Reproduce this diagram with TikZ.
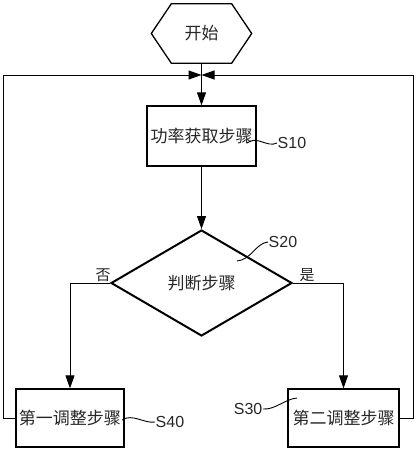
\documentclass[tikz,border=0pt]{standalone}
\usepackage{fontspec}
\setmainfont{Liberation Sans}
\newfontfamily\cjk{Noto Sans CJK SC}
\usetikzlibrary{arrows.meta,shapes.geometric}
\begin{document}
\begin{tikzpicture}[x=1pt,y=-1pt,
  txt/.style={font=\cjk\fontsize{17}{17}\selectfont,text=black!85},
  box/.style={txt,draw,line width=1.3pt,inner sep=0pt},
  lab/.style={font=\fontsize{16}{16}\selectfont,inner sep=0.5pt,text=black!85},
  yn/.style={font=\cjk\fontsize{15}{15}\selectfont,text=black!85},
  conn/.style={line width=1pt,-{Triangle[length=13pt,width=9pt]}},
  plain/.style={line width=1pt},
  sq/.style={line width=0.9pt}]
\useasboundingbox (0,0) rectangle (418,450);
% start hexagon
\node[txt,minimum width=60pt,minimum height=59pt,inner sep=0pt] (start) at (201.5,33.5) {开始};
\draw[line width=1.3pt] (start.north west) -- (start.north east) -- ([xshift=20pt]start.east)
  -- (start.south east) -- (start.south west) -- ([xshift=-20pt]start.west) -- cycle;
\coordinate (j) at (201.5,75);
\coordinate (cl) at (3,75);
\coordinate (cr) at (413,75);
% boxes
\node[box,minimum width=109pt,minimum height=60pt] (s10) at (201.5,136) {功率获取步骤};
\node[txt,draw,diamond,line width=2pt,minimum width=181pt,minimum height=106pt,inner sep=0pt] (d) at (201.5,283) {判断步骤};
\node[box,minimum width=108pt,minimum height=58pt] (s40) at (70,418) {第一调整步骤};
\node[box,minimum width=111pt,minimum height=58pt] (s30) at (343.5,418) {第二调整步骤};
% connectors
\draw[plain] (start.south) -- (j);
\draw[conn] (j) -- (s10.north);
\draw[conn] (s10.south) -- (d.north);
\draw[conn] (d.west) -| (s40.north);
\draw[conn] (d.east) -| (s30.north);
\draw[conn] (s40.west) -| (cl) -- (j);
\draw[conn] (s30.east) -| (cr) -- (j);
% yes/no
\node[yn] (no) at (103,275) {否};
\node[yn] (yes) at (307,275) {是};
% step labels
\node[lab,anchor=west] (l10) at (277,143) {S10};
\coordinate (p10) at (247,143);
\draw[sq] (p10) .. controls +(10,-8) and +(-10,5) .. (l10.west);
\node[lab,anchor=west] (l20) at (268,242) {S20};
\coordinate (p20) at (237,261);
\draw[sq] (p20) .. controls +(14,-1) and +(-12,1) .. (l20.west);
\node[lab,anchor=east] (l30) at (263,409) {S30};
\coordinate (p30) at (297,398);
\draw[sq] (l30.east) .. controls +(12,1) and +(-12,1) .. (p30);
\node[lab,anchor=west] (l40) at (155,422) {S40};
\coordinate (p40) at (122,420);
\draw[sq] (p40) .. controls +(10,-7) and +(-10,2) .. (l40.west);
\end{tikzpicture}
\end{document}
